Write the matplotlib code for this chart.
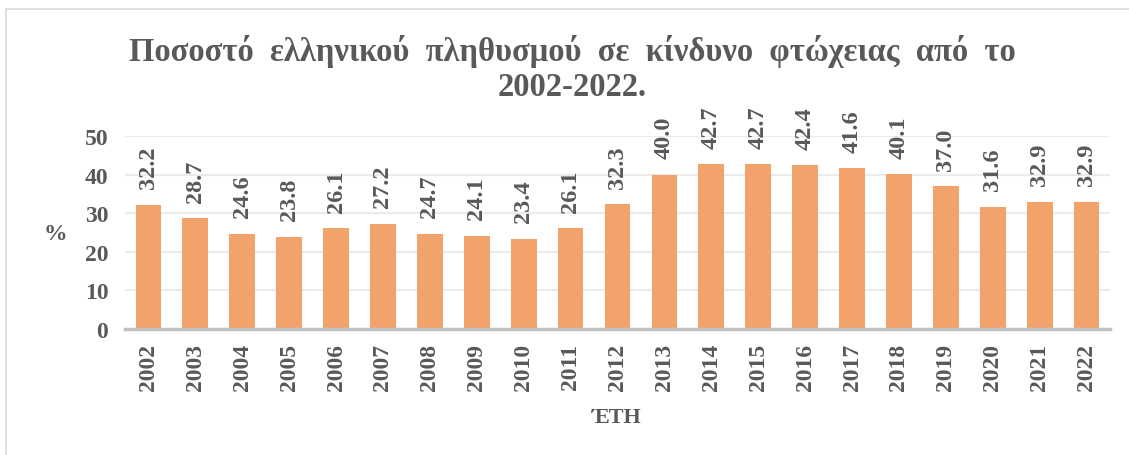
import matplotlib.pyplot as plt
from matplotlib.patches import Rectangle

years = [str(y) for y in range(2002, 2023)]
rates = [32.2, 28.7, 24.6, 23.8, 26.1, 27.2, 24.7, 24.1, 23.4, 26.1, 32.3,
         40.0, 42.7, 42.7, 42.4, 41.6, 40.1, 37.0, 31.6, 32.9, 32.9]
yticks = [0, 10, 20, 30, 40, 50]

title = 'Ποσοστό  ελληνικού  πληθυσμού  σε  κίνδυνο  φτώχειας  από  το\n2002-2022.'
text_color = '#595959'
bar_color = '#F1A36B'

plt.rcParams['font.family'] = ['Liberation Serif', 'DejaVu Serif']
plt.rcParams['font.weight'] = 'bold'

fig = plt.figure(figsize=(11.29, 4.56), dpi=100)
# chart border (only top/left visible in the picture)
fig.patches.append(Rectangle((6 / 1129, -0.1), 1.2, 1 - 10 / 456 + 0.1,
                             transform=fig.transFigure, fill=False,
                             edgecolor='#D9D9D9', linewidth=1.2))

ax = fig.add_axes([125 / 1129, 1 - 330 / 456, 985 / 1129, 193 / 456])
x = list(range(len(years)))
ax.bar(x, rates, width=0.55, color=bar_color, zorder=3)
for xi, v in zip(x, rates):
    ax.annotate(f'{v:.1f}', (xi, v), xytext=(0, 12), textcoords='offset points',
                rotation=90, ha='center', va='bottom', fontsize=17.5,
                color=text_color, fontweight='bold')

ax.set_xlim(-0.5, len(years) - 0.5)
ax.set_ylim(0, 50)
ax.set_yticks(yticks)
ax.set_xticks(x)
ax.set_xticklabels(years, rotation=90)
ax.tick_params(axis='both', length=0, labelsize=17, labelcolor=text_color)
ax.tick_params(axis='x', pad=10)
ax.tick_params(axis='y', pad=12)
ax.grid(axis='y', color='#EBEBEB', linewidth=1.5, zorder=0)
for s in ['top', 'right', 'left']:
    ax.spines[s].set_visible(False)
ax.spines['bottom'].set_color('#BFBFBF')
ax.spines['bottom'].set_linewidth(2.5)
ax.spines['bottom'].set_zorder(4)

fig.text(572 / 1129, 1 - 69 / 456, title, ha='center', va='center',
         fontsize=23.5, color=text_color, fontweight='bold', linespacing=1.2)
fig.text(55 / 1129, 1 - 235 / 456, '%', ha='center', va='center',
         fontsize=17, color=text_color, fontweight='bold')
fig.text(617 / 1129, 1 - 418 / 456, 'ΈΤΗ', ha='center', va='center',
         fontsize=16, color=text_color, fontweight='bold')

fig.savefig('out.png', dpi=100)
